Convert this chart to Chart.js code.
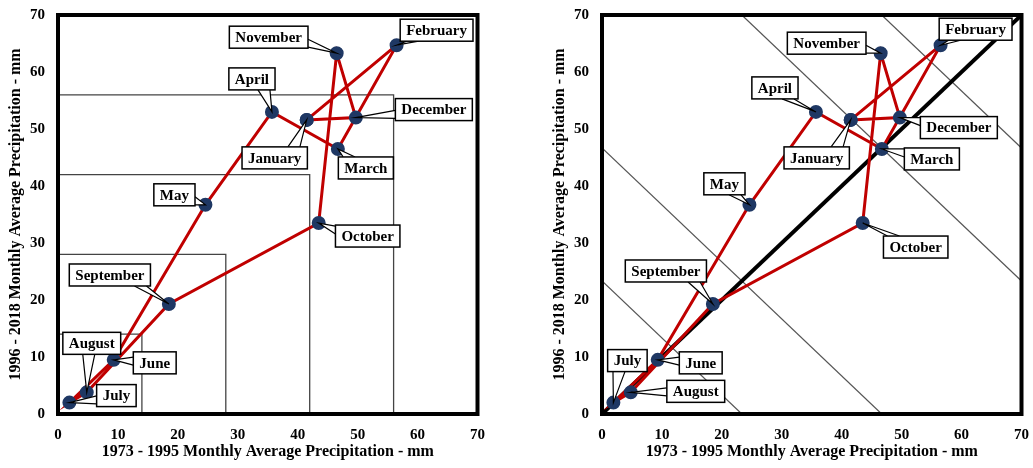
<!DOCTYPE html>
<html>
<head>
<meta charset="utf-8">
<script src="https://cdn.jsdelivr.net/npm/chart.js@4.4.0/dist/chart.umd.min.js"></script>
<style>
    body { margin: 0; background: #fff; width: 1033px; height: 468px; overflow: hidden; position: relative; }
    .panel { position: absolute; top: -7px; height: 476px; }
</style>
</head>
<body>
<div class="panel" style="left:0;width:497px"><canvas id="leftChart"></canvas></div>
<div class="panel" style="left:544px;width:497px"><canvas id="rightChart"></canvas></div>
<script>
// data
const months = ['January', 'February', 'March', 'April', 'May', 'June',
    'July', 'August', 'September', 'October', 'November', 'December'];
const early = [41.5, 56.5, 46.7, 35.7, 24.6, 9.3, 1.9, 4.8, 18.5, 43.5, 46.5, 49.7];   // 1973 - 1995
const recent = [51.6, 64.7, 46.5, 53.0, 36.7, 9.5, 2.0, 3.8, 19.3, 33.5, 63.3, 52.0];  // 1996 - 2018
const squareSizes = [14, 28, 42, 56];
const equalLine = [[0, 0], [70, 70]];
const contourLines = [
    [[0, 23.33], [23.33, 0]],
    [[0, 46.67], [46.67, 0]],
    [[23.33, 70], [70, 23.33]],
    [[46.67, 70], [70, 46.67]]
];
const axisMin = 0, axisMax = 70, axisStep = 10;
const xTitle = '1973 - 1995 Monthly Average Precipitation - mm';
const yTitle = '1996 - 2018 Monthly Average Precipitation - mm';

// callout box offsets (pixels from the point), one per month
const leftCallouts = [[-32, 38], [40, -15], [28, 19], [-20, -33], [-31, -10], [41, 3],
    [47, -7], [5, -49], [-59, -29], [49, 13], [-68, -16], [78, -8]];
const rightCallouts = [[-34, 38], [35, -16], [50, 10], [-41, -24], [-25, -21], [43, 3],
    [14, -42], [65, -1], [-47, -33], [53, 24], [-54, -10], [59, 10]];

const serif = '"Liberation Serif", "Times New Roman", serif';

function monthSeries() {
    const pts = months.map((m, i) => ({ x: early[i], y: recent[i] }));
    pts.push({ x: early[0], y: recent[0] });
    return {
        data: pts,
        showLine: true,
        borderColor: '#c00000',
        borderWidth: 3,
        pointRadius: 5.5,
        pointBackgroundColor: '#1f3864',
        pointBorderColor: '#1f3864',
        order: 0
    };
}

function thinLine(points, color, width) {
    return {
        data: points.map(p => ({ x: p[0], y: p[1] })),
        showLine: true,
        borderColor: color,
        borderWidth: width,
        pointRadius: 0,
        order: 5
    };
}

const calloutPlugin = {
    id: 'callouts',
    afterDatasetsDraw(chart, args, opts) {
        const ctx = chart.ctx;
        const a = chart.chartArea;
        ctx.save();
        ctx.strokeStyle = '#000';
        ctx.lineWidth = 4;
        ctx.strokeRect(a.left, a.top, a.right - a.left, a.bottom - a.top);

        const meta = chart.getDatasetMeta(0);
        ctx.font = 'bold 15px ' + serif;
        ctx.textAlign = 'center';
        ctx.textBaseline = 'middle';
        opts.offsets.forEach((off, i) => {
            const pt = meta.data[i];
            const w = ctx.measureText(months[i]).width + 12, h = 22;
            const cx = pt.x + off[0], cy = pt.y + off[1];
            const l = cx - w / 2, t = cy - h / 2, r = l + w, b = t + h;
            const dx = pt.x - cx, dy = pt.y - cy;
            let b1, b2;
            if (Math.abs(dy) * w > Math.abs(dx) * h) {
                const ey = dy > 0 ? b : t;
                const bx = Math.max(l + 10, Math.min(r - 10, cx + dx * 0.6));
                b1 = [bx - 6, ey]; b2 = [bx + 6, ey];
            } else {
                const ex = dx > 0 ? r : l;
                const by = Math.max(t + 5, Math.min(b - 5, cy + dy * 0.6));
                b1 = [ex, by - 4]; b2 = [ex, by + 4];
            }
            ctx.beginPath();
            ctx.moveTo(b1[0], b1[1]);
            ctx.lineTo(pt.x, pt.y);
            ctx.lineTo(b2[0], b2[1]);
            ctx.fillStyle = '#fff';
            ctx.fill();
            ctx.lineWidth = 1.2;
            ctx.strokeStyle = '#000';
            ctx.stroke();

            ctx.fillStyle = '#fff';
            ctx.fillRect(l, t, w, h);
            ctx.lineWidth = 1.5;
            ctx.strokeRect(l, t, w, h);
            ctx.fillStyle = '#000';
            ctx.fillText(months[i], cx, cy + 1);
        });
        ctx.restore();
    }
};

function axis(title, isX) {
    return {
        type: 'linear',
        min: axisMin,
        max: axisMax,
        ticks: {
            stepSize: axisStep,
            color: '#000',
            padding: isX ? 12 : 13,
            font: { family: serif, size: 15, weight: 'bold' }
        },
        grid: { display: false, drawTicks: false, tickLength: 0 },
        border: { display: false },
        title: {
            display: true,
            text: title,
            color: '#000',
            font: { family: serif, size: 16, weight: 'bold' },
            padding: isX ? { top: 2, bottom: 8 } : { top: 6, bottom: 0 }
        },
        afterFit(scale) {
            if (isX) scale.height = 55; else scale.width = 58;
        }
    };
}

function makeChart(id, datasets, offsets) {
    return new Chart(document.getElementById(id), {
        type: 'scatter',
        data: { datasets: datasets },
        options: {
            responsive: true,
            maintainAspectRatio: false,
            animation: false,
            layout: { padding: { top: 7, right: 6, left: 0, bottom: 0 } },
            scales: { x: axis(xTitle, true), y: axis(yTitle, false) },
            plugins: {
                legend: { display: false },
                tooltip: { enabled: false },
                callouts: { offsets: offsets }
            }
        },
        plugins: [calloutPlugin]
    });
}

const leftSets = [monthSeries()];
squareSizes.forEach(s => {
    leftSets.push(thinLine([[0, s], [s, s], [s, 0]], '#444', 1.3));
});
makeChart('leftChart', leftSets, leftCallouts);

const rightSets = [monthSeries()];
contourLines.forEach(c => rightSets.push(thinLine(c, '#555', 1.2)));
const diag = thinLine(equalLine, '#000', 4);
diag.order = 1;
rightSets.push(diag);
makeChart('rightChart', rightSets, rightCallouts);
</script>
</body>
</html>
